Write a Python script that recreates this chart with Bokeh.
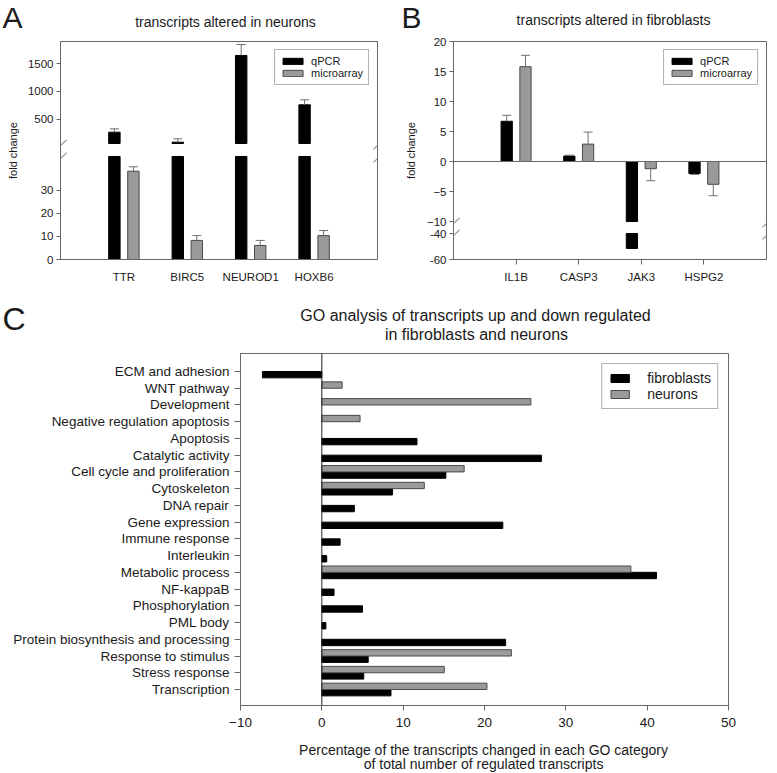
import numpy as np
from bokeh.plotting import figure
from bokeh.models import (Range1d, FixedTicker, Label, Legend, LegendItem, Whisker,
                          TeeHead, Span, ColumnDataSource)
from bokeh.layouts import column, row
from bokeh.embed import file_html
from bokeh.resources import INLINE
from bokeh.core.properties import value

FONT = "Liberation Sans"
TXT = "#1a1a1a"
FRAME = "#666666"
GRAY_FILL = "#9a9a9a"
GRAY_LINE = "#4a4a4a"
ERR = "#707070"

# ---------------- data: panel A (neurons) ----------------
genes_a = ["TTR", "BIRC5", "NEUROD1", "HOXB6"]
qpcr_a = [273, 95, 1643, 762]
qpcr_a_err = [60, 60, 196, 90]
micro_a = [38.4, 8.3, 6.1, 10.4]
micro_a_err = [1.9, 2.1, 2.2, 2.2]
ticks_a_low = [0, 10, 20, 30]
ticks_a_high = [500, 1000, 1500]

# ---------------- data: panel B (fibroblasts) ----------------
genes_b = ["IL1B", "CASP3", "JAK3", "HSPG2"]
qpcr_b = [6.7, 0.9, -51.5, -2.0]
qpcr_b_err = [1.0, 0.15, 0.0, 0.15]
micro_b = [15.8, 2.9, -1.2, -3.8]
micro_b_err = [1.9, 2.0, 2.0, 1.9]
ticks_b_main = [-10, -5, 0, 5, 10, 15, 20]
ticks_b_low = [-60, -40]

# ---------------- data: panel C (GO analysis) ----------------
go_terms = ["ECM and adhesion", "WNT pathway", "Development",
            "Negative regulation apoptosis", "Apoptosis", "Catalytic activity",
            "Cell cycle and proliferation", "Cytoskeleton", "DNA repair",
            "Gene expression", "Immune response", "Interleukin",
            "Metabolic process", "NF-kappaB", "Phosphorylation", "PML body",
            "Protein biosynthesis and processing", "Response to stimulus",
            "Stress response", "Transcription"]
fibroblasts = [-7.3, 0, 0, 0, 11.7, 27.0, 15.25, 8.7, 4.0, 22.25, 2.25, 0.6,
               41.15, 1.5, 5.0, 0.5, 22.6, 5.7, 5.15, 8.5]
neurons = [0, 2.5, 25.7, 4.7, 0, 0, 17.5, 12.6, 0, 0, 0, 0,
           38.0, 0, 0, 0, 0, 23.3, 15.05, 20.3]
ticks_c = [-10, 0, 10, 20, 30, 40, 50]


# ---------------- helpers ----------------
def remap(v, src, dst):
    return round(dst.start + (v - src.start) / (src.end - src.start) * (dst.end - dst.start), 6)


def style(p, tick_font):
    for ax in p.axis:
        ax.axis_line_color = FRAME
        ax.major_tick_line_color = FRAME
        ax.minor_tick_line_color = None
        ax.major_tick_in = 0
        ax.major_label_text_font = FONT
        ax.major_label_text_font_size = tick_font
        ax.major_label_text_color = TXT
        ax.axis_label_text_font = FONT
        ax.axis_label_text_font_style = "normal"
        ax.axis_label_text_color = TXT
    p.xgrid.visible = False
    p.ygrid.visible = False
    p.outline_line_color = FRAME
    p.background_fill_color = "white"
    p.border_fill_color = "white"


def slash(p, x, y, y_range_name="default"):
    p.add_layout(Label(x=x, y=y, text="\u2014", text_font=FONT, text_font_size="14px",
                       text_color="#8a8a8a", text_align="center", text_baseline="middle",
                       y_range_name=y_range_name, angle=0.75))


def whiskers(p, xs, vals, errs, y_range_name="default"):
    xs = np.asarray(xs, float)
    vals = np.asarray(vals, float)
    errs = np.asarray(errs, float)
    ok = errs > 0
    pos = ok & (vals >= 0)
    neg = ok & (vals < 0)
    if pos.any():
        s = ColumnDataSource(dict(base=xs[pos], lower=vals[pos], upper=vals[pos] + errs[pos]))
        p.add_layout(Whisker(source=s, base="base", lower="lower", upper="upper",
                             dimension="height", line_color=ERR, line_width=1,
                             upper_head=TeeHead(size=9, line_color=ERR, line_width=1),
                             lower_head=None, y_range_name=y_range_name, level="annotation"))
    if neg.any():
        s = ColumnDataSource(dict(base=xs[neg], lower=vals[neg] - errs[neg], upper=vals[neg]))
        p.add_layout(Whisker(source=s, base="base", lower="lower", upper="upper",
                             dimension="height", line_color=ERR, line_width=1,
                             lower_head=TeeHead(size=9, line_color=ERR, line_width=1),
                             upper_head=None, y_range_name=y_range_name, level="annotation"))


def legend(p, items, font, gw, gh, margin, padding, standoff):
    lg = Legend(items=items, location="top_right", margin=margin, padding=padding,
                spacing=0, glyph_width=gw, glyph_height=gh, label_height=10,
                label_standoff=standoff, label_text_font=FONT, label_text_font_size=font,
                label_text_color=TXT, border_line_color=FRAME, background_fill_alpha=1)
    p.add_layout(lg)


def strip(width, height):
    """A text-only strip (header / footer) whose data units are pixels, y downward."""
    h = figure(width=width, height=height, x_range=Range1d(0, width),
               y_range=Range1d(height, 0), x_axis_type=None, y_axis_type=None,
               toolbar_location=None, output_backend="svg", title=None,
               min_border_left=0, min_border_right=0, min_border_top=0, min_border_bottom=0)
    h.outline_line_color = None
    h.background_fill_color = "white"
    h.border_fill_color = "white"
    return h


def stext(h, x, y, s, size, align="center"):
    h.text(x=[x], y=[y], text=[s], text_font=value(FONT), text_font_size=value(size),
           text_color=TXT, text_align=align, text_baseline="middle")


OFF = 0.15
BW = 0.18

# ================= header for A / B =================
head_ab = strip(777, 34)
stext(head_ab, 2, 17, "A", "30px", align="left")
stext(head_ab, 225, 21, "transcripts altered in neurons", "14px")
stext(head_ab, 401, 17, "B", "30px", align="left")
stext(head_ab, 613, 19, "transcripts altered in fibroblasts", "14px")

# ================= Panel A =================
xa = np.arange(1, len(genes_a) + 1, dtype=float)
a_low = Range1d(0, 94.78)         # lower segment scale (0..45 visible)
a_high = Range1d(-2000.5, 1893)   # upper segment scale
A_LOW_MAX, A_HIGH_MIN = 44.8, 71.0

pa = figure(width=390, height=256, x_range=Range1d(0, 5), y_range=a_low, title=None,
            output_backend="svg", toolbar_location=None,
            min_border_left=60, min_border_right=13, min_border_top=7, min_border_bottom=31)
pa.extra_y_ranges = {"high": a_high}

renders_a = []
for vals, off, fill, line in [(qpcr_a, -OFF, "black", "black"),
                              (micro_a, OFF, GRAY_FILL, GRAY_LINE)]:
    v = np.asarray(vals, float)
    xs = xa + off
    r = pa.vbar(x=xs, bottom=0, top=np.minimum(v, A_LOW_MAX), width=BW,
                fill_color=fill, line_color=line)
    renders_a.append(r)
    m = v > A_LOW_MAX
    if m.any():
        pa.vbar(x=xs[m], bottom=A_HIGH_MIN, top=v[m], width=BW, fill_color=fill,
                line_color=line, y_range_name="high")
whiskers(pa, xa - OFF, qpcr_a, qpcr_a_err, y_range_name="high")
whiskers(pa, xa + OFF, micro_a, micro_a_err)

pa.yaxis.ticker = FixedTicker(ticks=list(ticks_a_low) + [remap(t, a_high, a_low) for t in ticks_a_high])
pa.yaxis.major_label_overrides = {remap(t, a_high, a_low): str(t) for t in ticks_a_high}
pa.yaxis.axis_label = "fold change"
pa.yaxis.axis_label_text_font_size = "11px"
pa.yaxis.axis_label_standoff = 6
pa.yaxis.major_tick_out = 4
pa.yaxis.major_label_standoff = 3
pa.xaxis.ticker = FixedTicker(ticks=list(xa))
pa.xaxis.major_label_overrides = {float(i + 1): g for i, g in enumerate(genes_a)}
pa.xaxis.major_tick_out = 0
pa.xaxis.major_label_standoff = 11
style(pa, "11.5px")

for xe in (0, 5):
    slash(pa, xe, A_HIGH_MIN, "high")
    slash(pa, xe, A_LOW_MAX)

legend(pa, [LegendItem(label="qPCR", renderers=[renders_a[0]]),
            LegendItem(label="microarray", renderers=[renders_a[1]])],
       "11px", 25, 8, 8, 5, 6)

# ================= Panel B =================
xb = np.arange(1, len(genes_b) + 1, dtype=float)
b_main = Range1d(-16.33, 20)      # upper segment scale (-10..20 visible)
b_low = Range1d(-60, 107.7)       # lower segment scale (-60..-40 visible)
B_MAIN_MIN, B_LOW_MAX = -10.0, -40.0

pb = figure(width=387, height=256, x_range=Range1d(0, 5), y_range=b_main, title=None,
            output_backend="svg", toolbar_location=None,
            min_border_left=63, min_border_right=11, min_border_top=7, min_border_bottom=31)
pb.extra_y_ranges = {"low": b_low}

pb.add_layout(Span(location=0, dimension="width", line_color=FRAME, line_width=1))

renders_b = []
for vals, off, fill, line in [(qpcr_b, -OFF, "black", "black"),
                              (micro_b, OFF, GRAY_FILL, GRAY_LINE)]:
    v = np.asarray(vals, float)
    xs = xb + off
    r = pb.vbar(x=xs, bottom=0, top=np.maximum(v, B_MAIN_MIN), width=BW,
                fill_color=fill, line_color=line)
    renders_b.append(r)
    m = v < B_MAIN_MIN
    if m.any():
        pb.vbar(x=xs[m], bottom=B_LOW_MAX, top=v[m], width=BW, fill_color=fill,
                line_color=line, y_range_name="low")
whiskers(pb, xb - OFF, qpcr_b, qpcr_b_err)
whiskers(pb, xb + OFF, micro_b, micro_b_err)

pb.yaxis.ticker = FixedTicker(ticks=list(ticks_b_main) + [remap(t, b_low, b_main) for t in ticks_b_low])
pb.yaxis.major_label_overrides = {remap(t, b_low, b_main): str(t) for t in ticks_b_low}
pb.yaxis.axis_label = "fold change"
pb.yaxis.axis_label_text_font_size = "11px"
pb.yaxis.axis_label_standoff = 7
pb.yaxis.major_tick_out = 4
pb.yaxis.major_label_standoff = 3
pb.xaxis.ticker = FixedTicker(ticks=list(xb))
pb.xaxis.major_label_overrides = {float(i + 1): g for i, g in enumerate(genes_b)}
pb.xaxis.major_tick_out = 5
pb.xaxis.major_label_standoff = 6
style(pb, "11.5px")

for xe in (0, 5):
    slash(pb, xe, B_MAIN_MIN)
    slash(pb, xe, B_LOW_MAX, "low")

legend(pb, [LegendItem(label="qPCR", renderers=[renders_b[0]]),
            LegendItem(label="microarray", renderers=[renders_b[1]])],
       "11px", 25, 8, 8, 5, 6)

# ================= header for C =================
head_c = strip(777, 55)
stext(head_c, 2, 28, "C", "32px", align="left")
stext(head_c, 475, 25, "GO analysis of transcripts up and down regulated", "16px")
stext(head_c, 476, 44, "in fibroblasts and neurons", "16px")

# ================= Panel C =================
idx = np.arange(len(go_terms), dtype=float)
pc = figure(width=777, height=395, x_range=Range1d(-10, 50), y_range=Range1d(19.956, -1.075),
            title=None, output_backend="svg", toolbar_location=None,
            min_border_left=240, min_border_right=49, min_border_top=8, min_border_bottom=35)

fib = np.asarray(fibroblasts, float)
neu = np.asarray(neurons, float)
mf = fib != 0
mn = neu != 0
rf = pc.hbar(y=idx[mf] + 0.19, left=0, right=fib[mf], height=0.38,
             fill_color="black", line_color="black")
rn = pc.hbar(y=idx[mn] - 0.19, left=0, right=neu[mn], height=0.38,
             fill_color=GRAY_FILL, line_color=GRAY_LINE)
pc.add_layout(Span(location=0, dimension="height", line_color="#222222", line_width=1))

pc.yaxis.ticker = FixedTicker(ticks=list(idx))
pc.yaxis.major_label_overrides = {float(i): t for i, t in enumerate(go_terms)}
pc.yaxis.major_tick_out = 6
pc.yaxis.major_label_standoff = 5
pc.xaxis.ticker = FixedTicker(ticks=ticks_c)
pc.xaxis.major_tick_out = 5
pc.xaxis.major_label_standoff = 7
style(pc, "13.5px")

legend(pc, [LegendItem(label="fibroblasts", renderers=[rf]),
            LegendItem(label="neurons", renderers=[rn])],
       "14px", 23, 10, 10, 6, 16)

# ================= footer for C =================
foot_c = strip(777, 32)
stext(foot_c, 485, 9, "Percentage of the transcripts changed  in each GO category", "14px")
stext(foot_c, 485, 23, "of total number of  regulated transcripts", "14px")

# strips are wrapped in rows so that their frames are not aligned with panel C
layout = column(row(head_ab), row(pa, pb), row(head_c), pc, row(foot_c))
open("out.html", "w").write(file_html(layout, INLINE))
